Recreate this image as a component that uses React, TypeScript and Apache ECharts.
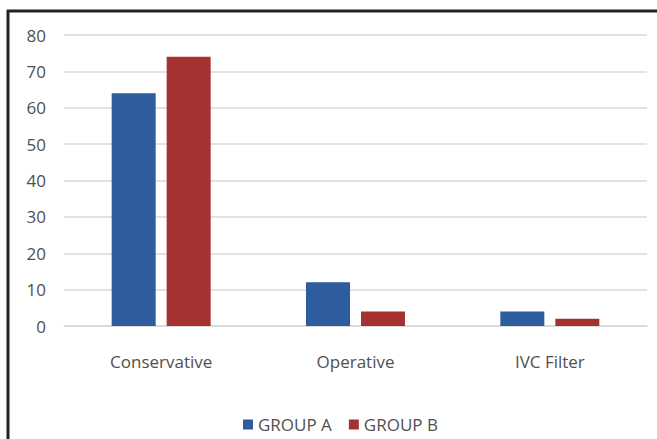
import React, { useEffect, useRef } from "react";
import * as echarts from "echarts";

const categories = ["Conservative", "Operative", "IVC Filter"];
const groupA = [64, 12, 4];
const groupB = [74, 4, 2];
const seriesNames = ["GROUP A", "GROUP B"];

const FONT = "'Open Sans', sans-serif";
const TEXT_COLOR = "#505050";

export default function App() {
  const ref = useRef<HTMLDivElement>(null);

  useEffect(() => {
    if (!ref.current) return;
    const chart = echarts.init(ref.current, undefined, { renderer: "svg" });
    chart.setOption({
      animation: false,
      backgroundColor: "#ffffff",
      textStyle: { fontFamily: FONT },
      graphic: [
        {
          type: "line",
          shape: { x1: 7, y1: 11, x2: 657, y2: 11 },
          style: { stroke: "#222222", lineWidth: 3 },
          z: 100,
        },
        {
          type: "line",
          shape: { x1: 8, y1: 10, x2: 8, y2: 439 },
          style: { stroke: "#222222", lineWidth: 3 },
          z: 100,
        },
      ],
      grid: { left: 64, right: 10, top: 35, bottom: 113 },
      legend: {
        data: seriesNames,
        top: 411,
        left: 238,
        icon: "rect",
        itemWidth: 10,
        itemHeight: 10,
        itemGap: 17,
        itemStyle: { borderWidth: 0 },
        textStyle: { fontFamily: FONT, fontSize: 17, color: TEXT_COLOR },
      },
      xAxis: {
        type: "category",
        data: categories,
        axisLine: { show: true, lineStyle: { color: "#d9d9d9", width: 1.5 } },
        axisTick: { show: false },
        axisLabel: {
          margin: 27,
          fontFamily: FONT,
          fontSize: 17,
          color: TEXT_COLOR,
        },
      },
      yAxis: {
        type: "value",
        min: 0,
        max: 80,
        interval: 10,
        axisLine: { show: false },
        axisTick: { show: false },
        axisLabel: {
          margin: 18,
          fontFamily: FONT,
          fontSize: 17,
          color: TEXT_COLOR,
        },
        splitLine: { lineStyle: { color: "#d9d9d9", width: 1.5 } },
      },
      series: [
        {
          name: seriesNames[0],
          type: "bar",
          data: groupA,
          barWidth: 44,
          barGap: "25%",
          itemStyle: { color: "#2E5C9F" },
        },
        {
          name: seriesNames[1],
          type: "bar",
          data: groupB,
          barWidth: 44,
          itemStyle: { color: "#A53131" },
        },
      ],
    });
    return () => chart.dispose();
  }, []);

  return (
    <div
      ref={ref}
      style={{ position: "fixed", left: 0, top: 0, width: 657, height: 439 }}
    />
  );
}
